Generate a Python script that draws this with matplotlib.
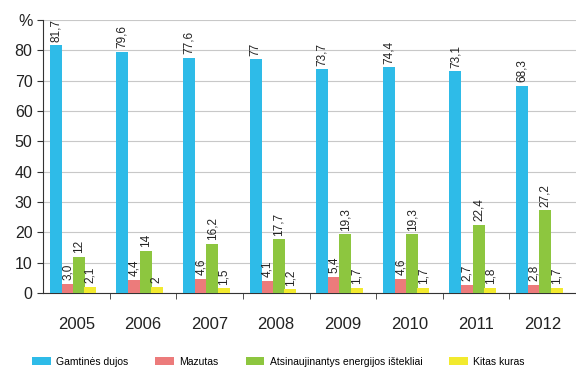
import numpy as np
import matplotlib
matplotlib.use("Agg")
import matplotlib.pyplot as plt
from matplotlib.patches import Patch

plt.rcParams["font.family"] = ["Liberation Sans", "DejaVu Sans"]

# ----------------------------------------------------
# Data
# ----------------------------------------------------

years = ["2005", "2006", "2007", "2008", "2009", "2010", "2011", "2012"]

gas = [81.7, 79.6, 77.6, 77, 73.7, 74.4, 73.1, 68.3]
fuel_oil = [3.0, 4.4, 4.6, 4.1, 5.4, 4.6, 2.7, 2.8]
renewables = [12, 14, 16.2, 17.7, 19.3, 19.3, 22.4, 27.2]
other = [2.1, 2, 1.5, 1.2, 1.7, 1.7, 1.8, 1.7]

gas_labels = ["81,7", "79,6", "77,6", "77", "73,7", "74,4", "73,1", "68,3"]
fuel_oil_labels = ["3,0", "4,4", "4,6", "4,1", "5,4", "4,6", "2,7", "2,8"]
renewables_labels = ["12", "14", "16,2", "17,7", "19,3", "19,3", "22,4", "27,2"]
other_labels = ["2,1", "2", "1,5", "1,2", "1,7", "1,7", "1,8", "1,7"]

series_names = [
    "Gamtinės dujos",
    "Mazutas",
    "Atsinaujinantys energijos ištekliai",
    "Kitas kuras",
]
colors = ["#2ebbe8", "#ec7b7b", "#8dc63f", "#f2ea2e"]

# ----------------------------------------------------
# Plot
# ----------------------------------------------------

fig = plt.figure(figsize=(5.76, 3.70), dpi=100)
ax = fig.add_axes([43 / 576, 1 - 293 / 370, 533 / 576, 273 / 370])

x = np.arange(len(years))
width = 0.18
offsets = [-0.31, -0.13, 0.04, 0.21]

all_values = [gas, fuel_oil, renewables, other]
all_labels = [gas_labels, fuel_oil_labels, renewables_labels, other_labels]

for values, labels, color, off in zip(all_values, all_labels, colors, offsets):
    ax.bar(x + off, values, width=width, color=color, zorder=3)
    for xi, v, lab in zip(x, values, labels):
        ax.text(xi + off, v + 1.2, lab, rotation=90, ha="center", va="bottom",
                fontsize=8.5, color="#222222", zorder=4)

ax.set_xlim(-0.5, len(years) - 0.5)
ax.set_ylim(0, 90)

ax.set_yticks(range(0, 100, 10))
ax.set_yticklabels([str(v) for v in range(0, 90, 10)] + ["%"], fontsize=11.5,
                   color="#222222")
ax.yaxis.grid(True, color="#c8c8c8", linewidth=0.8, zorder=0)

# year labels centered, separator ticks at group boundaries
ax.set_xticks(x)
ax.set_xticklabels(years, fontsize=12, color="#222222")
ax.tick_params(axis="x", length=0, pad=17)
ax.set_xticks(np.arange(0.5, len(years) - 0.5, 1), minor=True)
ax.tick_params(axis="x", which="minor", length=4, direction="out", color="#333333")
ax.tick_params(axis="y", length=4, direction="out", color="#333333")

for side in ["top", "right"]:
    ax.spines[side].set_visible(False)
ax.spines["left"].set_color("#333333")
ax.spines["bottom"].set_color("#333333")

handles = [Patch(facecolor=c, edgecolor="none") for c in colors]
fig.legend(handles, series_names, loc="center left",
           bbox_to_anchor=(32 / 576, 1 - 362 / 370),
           ncol=4, frameon=False, fontsize=7.5, handlelength=1.8,
           handleheight=0.8, columnspacing=2.6, handletextpad=0.5,
           borderpad=0, borderaxespad=0)

fig.savefig("out.png", dpi=100)
